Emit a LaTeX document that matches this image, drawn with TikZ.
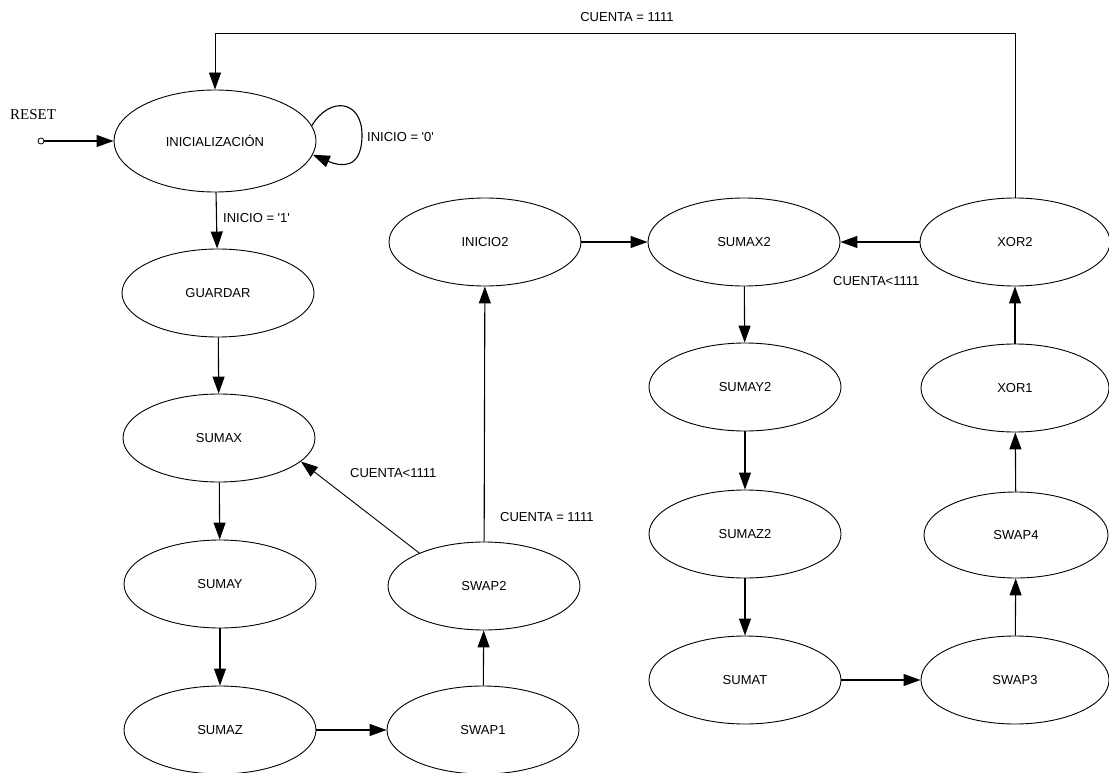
\documentclass[tikz,border=0pt]{standalone}
\usepackage{fontspec}
\setmainfont{Liberation Sans}
\newfontfamily\resetfont{Liberation Serif}
\usetikzlibrary{arrows.meta,shapes.geometric}
\begin{document}
\begin{tikzpicture}[x=1pt,y=-1pt,
  state/.style={draw, ellipse, line width=0.9pt, minimum width=192pt,
    minimum height=88pt, inner sep=0pt, font=\fontsize{13}{15}\selectfont},
  arr/.style={line width=1.1pt, -{Triangle[length=17pt,width=12pt]}},
  lbl/.style={font=\fontsize{13}{15}\selectfont, inner sep=0pt}]
\useasboundingbox (0,0) rectangle (1109,773);

% states
\node[state, minimum width=202pt, minimum height=102pt] (INIT) at (215,141) {INICIALIZACIÓN};
\node[state] (GUARDAR) at (218,293) {GUARDAR};
\node[state] (SUMAX)   at (219,438) {SUMAX};
\node[state] (SUMAY)   at (220,584) {SUMAY};
\node[state] (SUMAZ)   at (220,730) {SUMAZ};
\node[state] (SWAP1)   at (483,730) {SWAP1};
\node[state] (SWAP2)   at (484,586) {SWAP2};
\node[state] (INICIO2) at (485,242) {INICIO2};
\node[state] (SUMAX2)  at (744,242) {SUMAX2};
\node[state] (SUMAY2)  at (745,387) {SUMAY2};
\node[state] (SUMAZ2)  at (745,534) {SUMAZ2};
\node[state] (SUMAT)   at (745,680) {SUMAT};
\node[state, minimum width=188pt] (SWAP3) at (1015,680) {SWAP3};
\node[state, minimum width=184pt, minimum height=86pt] (SWAP4) at (1016,535) {SWAP4};
\node[state, minimum width=188pt] (XOR1)  at (1015,388) {XOR1};
\node[state, minimum width=190pt] (XOR2)  at (1015,242) {XOR2};

% reset input
\node[font=\resetfont\fontsize{15}{17}\selectfont, inner sep=0pt] (RESETL) at (33,115) {RESET};
\node[circle, draw, line width=0.8pt, minimum size=6pt, inner sep=0pt] (RST) at (41,141) {};
\draw[arr] (RST) -- (INIT.west);

% self loop
\draw[arr] (INIT.9) .. controls +(18,-30) and +(0,-35) .. (362,135)
  .. controls +(0,35) and +(28,12) .. (INIT.-8);
\node[lbl, anchor=west] (L0) at (367,137) {INICIO = \textquotesingle 0\textquotesingle};

% first chain
\draw[arr] (INIT) -- (GUARDAR);
\node[lbl, anchor=west] (L1) at (223,218) {INICIO = \textquotesingle 1\textquotesingle};
\draw[arr] (GUARDAR) -- (SUMAX);
\draw[arr] (SUMAX) -- (SUMAY);
\draw[arr] (SUMAY) -- (SUMAZ);
\draw[arr] (SUMAZ) -- (SWAP1);
\draw[arr] (SWAP1) -- (SWAP2);
\draw[arr] (SWAP2) -- (INICIO2);
\node[lbl, anchor=west] (L2) at (500,517) {CUENTA = 1111};
\draw[arr, line width=0.9pt] (SWAP2.153) -- (SUMAX.-16);
\node[lbl, anchor=west] (L3) at (350,473) {CUENTA<1111};

% second chain
\draw[arr] (INICIO2) -- (SUMAX2);
\draw[arr] (SUMAX2) -- (SUMAY2);
\draw[arr] (SUMAY2) -- (SUMAZ2);
\draw[arr] (SUMAZ2) -- (SUMAT);
\draw[arr] (SUMAT) -- (SWAP3);
\draw[arr] (SWAP3) -- (SWAP4);
\draw[arr] (SWAP4) -- (XOR1);
\draw[arr] (XOR1) -- (XOR2);
\draw[arr] (XOR2) -- (SUMAX2);
\node[lbl, anchor=west] (L4) at (833,281) {CUENTA<1111};

% return to start
\coordinate (topline) at (0,33);
\draw[arr, line width=0.9pt] (XOR2.north) -- (XOR2.north |- topline) -| (INIT.north);
\node[lbl] (L5) at (627,17) {CUENTA = 1111};
\end{tikzpicture}
\end{document}
